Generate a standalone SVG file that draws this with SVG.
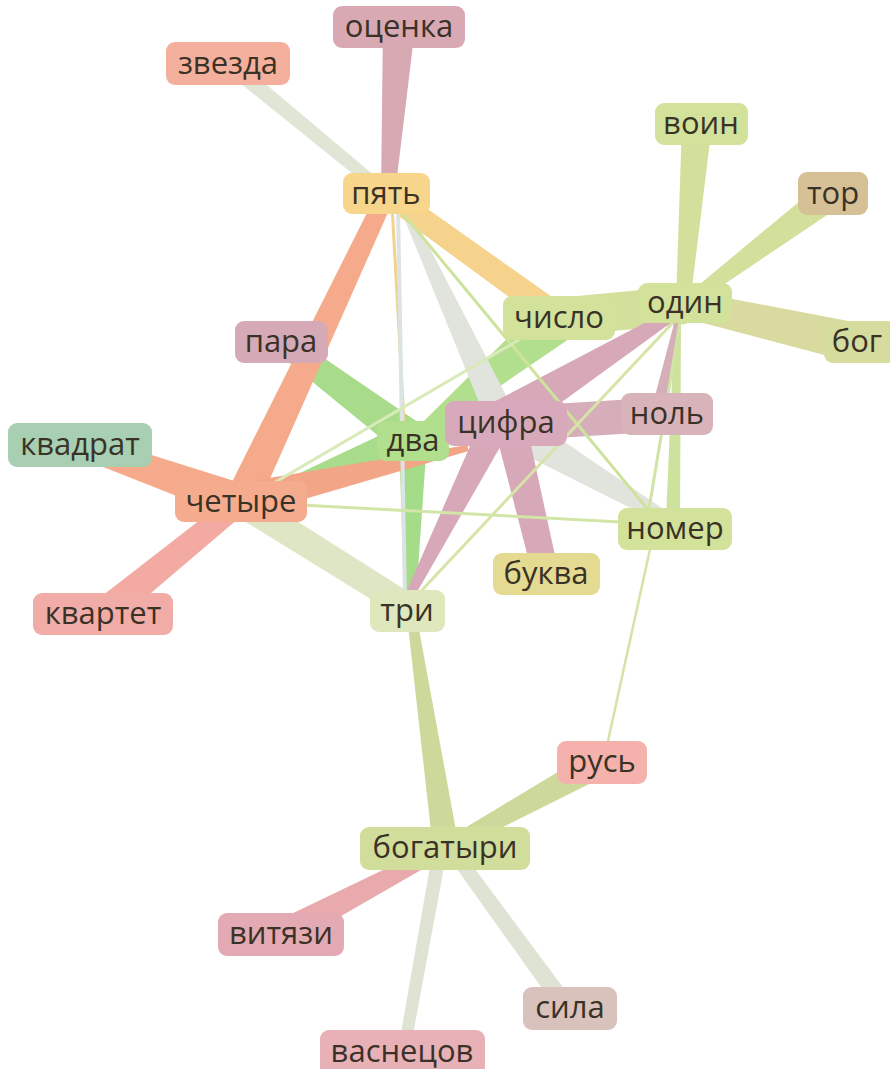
<svg xmlns="http://www.w3.org/2000/svg" width="890" height="1069" viewBox="0 0 890 1069">
<style>
text{font-family:"Open Sans","Noto Sans","DejaVu Sans",sans-serif;font-size:31px;fill:#3a3226;text-anchor:middle}
.g{fill:#d3e09b}.dg{fill:#a8dc8a}.sal{fill:#f5aa8b}.gr{fill:#e0e4dc}.mv{fill:#d6a8b8}.yl{fill:#f6d38c}
.ln{fill:none;stroke-linecap:butt}
</style>
<rect width="890" height="1069" fill="#ffffff"/>
<g id="connectors">
<polygon class="g" points="559.8,335.9 686.8,323.9 683.2,286.1 556.2,298.1"/>
<polygon class="g" points="690.0,303.5 712.0,125.2 682.0,122.8 676.0,302.5"/>
<polygon class="g" points="693.6,304.8 842.0,205.0 824.0,181.0 686.4,295.2"/>
<polygon fill="#d8daa0" points="686.9,318.7 852.6,362.5 861.4,323.5 693.1,291.4"/>
<polygon fill="#cde29c" points="675,309.9 666,519.8 680,520.2 681,310.1"/>
<polygon class="dg" points="274.4,350.8 401.2,454.4 422.8,425.6 287.6,333.2"/>
<polygon fill="#b2df8e" points="415.2,443.9 569.0,339.0 541.0,305.0 408.8,436.1"/>
<polygon fill="#a5dc89" points="399,439.7 404.5,604.9 415.5,605.1 427,440.3"/>
<polygon class="dg" points="399.7,426.0 258.9,492.2 261.1,497.8 410.3,454.0"/>
<polygon fill="#dfe6c6" points="242.6,519.9 398.1,616.0 411.9,594.0 257.4,496.1"/>
<polygon class="sal" points="377.9,191.2 225.6,494.7 256.4,509.3 394.1,198.8"/>
<polygon class="sal" points="76.0,456.3 235.0,519.0 247.0,485.0 84.0,433.7"/>
<polygon fill="#f2aaa3" points="234.1,493.5 93.6,602.4 112.5,625.7 247.9,510.5"/>
<polygon fill="#f3a588" points="244.7,516.6 468.6,450.9 467.4,445.1 237.3,483.4"/>
<polygon fill="#dfe6d6" points="222.9,69.2 382.2,197.6 389.8,188.4 233.1,56.8"/>
<polygon class="gr" points="399.4,206.7 490.4,430.3 517.6,417.7 406.6,203.3"/>
<polygon class="gr" points="505.9,445.5 656.5,521.0 663.5,509.0 524.1,414.5"/>
<polygon class="yl" points="379.6,201.9 550.4,327.5 565.6,306.5 392.4,184.1"/>
<polygon fill="#d7a9b3" points="383.0,25.9 381.0,192.5 395.0,193.5 415.0,28.1"/>
<polygon class="mv" points="516.5,435.0 682.6,314.2 677.4,305.8 495.5,401.0"/>
<polygon fill="#d4afb8" points="675.6,317.5 653.1,403.6 666.9,406.4 680.4,318.5"/>
<polygon fill="#d6aeb9" points="507.0,441.0 669.0,431.0 667.0,397.0 505.0,407.0"/>
<polygon class="mv" points="494.4,427.7 533.4,578.0 558.6,572.0 525.6,420.3"/>
<polygon class="mv" points="482.6,417.3 401.4,603.2 408.6,606.8 509.4,430.7"/>
<polygon fill="#cdd99b" points="406.5,611.7 433.1,849.9 458.9,846.1 415.5,610.3"/>
<polygon fill="#cdd99b" points="448.4,854.1 606.7,775.3 593.3,750.7 441.6,841.9"/>
<polygon fill="#e9aaad" points="441.7,841.8 273.5,922.6 286.5,947.4 448.3,854.2"/>
<polygon fill="#dee3d3" points="433.1,848.8 399.1,1043.9 410.9,1046.1 446.9,851.2"/>
<polygon fill="#dee3d3" points="446.3,854.1 557.7,1010.3 572.3,999.7 457.7,845.9"/>
<line class="ln" x1="392" y1="205" x2="405" y2="440" stroke="#f2d38e" stroke-width="3"/>
<line class="ln" x1="398" y1="208" x2="405" y2="600" stroke="#dbe3e4" stroke-width="4"/>
<line class="ln" x1="400" y1="210" x2="650" y2="512" stroke="#cde39c" stroke-width="3"/>
<line class="ln" x1="682" y1="310" x2="648" y2="515" stroke="#d2e3a6" stroke-width="3"/>
<line class="ln" x1="680" y1="315" x2="408" y2="605" stroke="#d6e4a8" stroke-width="3"/>
<line class="ln" x1="241" y1="502" x2="558" y2="317" stroke="#d8eab8" stroke-width="3"/>
<line class="ln" x1="300" y1="505" x2="640" y2="523" stroke="#d2e6a8" stroke-width="3"/>
<line class="ln" x1="652" y1="540" x2="606" y2="750" stroke="#d3e4a8" stroke-width="2.5"/>
</g>
<g id="node-оценка"><rect x="333" y="6" width="132" height="42" rx="9" fill="#d8a8b3"/><text x="399" y="37">оценка</text></g>
<g id="node-звезда"><rect x="166" y="42" width="124" height="43" rx="9" fill="#f5b09d"/><text x="228" y="74">звезда</text></g>
<g id="node-пять"><rect x="343" y="173" width="87" height="41" rx="9" fill="#f7d68b"/><text x="386" y="204">пять</text></g>
<g id="node-воин"><rect x="655" y="103" width="93" height="42" rx="9" fill="#d3e29b"/><text x="701" y="134">воин</text></g>
<g id="node-тор"><rect x="798" y="172" width="70" height="43" rx="9" fill="#d6c197"/><text x="833" y="204">тор</text></g>
<g id="node-один"><rect x="638" y="283" width="94" height="40" rx="9" fill="#d3e29b"/><text x="685" y="313">один</text></g>
<g id="node-число"><rect x="503" y="296" width="112" height="44" rx="9" fill="#d3e29b"/><text x="559" y="328">число</text></g>
<g id="node-бог"><rect x="824" y="321" width="72" height="42" rx="9" fill="#d6dc9d"/><text x="857" y="352">бог</text></g>
<g id="node-пара"><rect x="235" y="321" width="93" height="42" rx="9" fill="#d6a9b6"/><text x="281" y="352">пара</text></g>
<g id="node-два"><rect x="377" y="421" width="72" height="40" rx="9" fill="#b1df8e"/><text x="413" y="451">два</text></g>
<g id="node-цифра"><rect x="445" y="401" width="122" height="45" rx="9" fill="#d8a9bb"/><text x="506" y="433">цифра</text></g>
<g id="node-ноль"><rect x="621" y="393" width="92" height="42" rx="9" fill="#d8b4ba"/><text x="667" y="424">ноль</text></g>
<g id="node-квадрат"><rect x="8" y="423" width="144" height="44" rx="9" fill="#a8cfb2"/><text x="80" y="455">квадрат</text></g>
<g id="node-четыре"><rect x="175" y="481" width="132" height="41" rx="9" fill="#f5ac8e"/><text x="241" y="512">четыре</text></g>
<g id="node-номер"><rect x="618" y="508" width="114" height="42" rx="9" fill="#d3e29b"/><text x="675" y="539">номер</text></g>
<g id="node-буква"><rect x="493" y="553" width="107" height="42" rx="9" fill="#e4da92"/><text x="546" y="584">буква</text></g>
<g id="node-квартет"><rect x="33" y="593" width="140" height="42" rx="9" fill="#f2aca8"/><text x="103" y="624">квартет</text></g>
<g id="node-три"><rect x="370" y="590" width="75" height="42" rx="9" fill="#dfe8bd"/><text x="407" y="621">три</text></g>
<g id="node-русь"><rect x="557" y="741" width="90" height="43" rx="9" fill="#f5b1ab"/><text x="602" y="772">русь</text></g>
<g id="node-богатыри"><rect x="360" y="827" width="170" height="43" rx="9" fill="#d1dd9b"/><text x="445" y="858">богатыри</text></g>
<g id="node-витязи"><rect x="218" y="913" width="126" height="43" rx="9" fill="#e3aab4"/><text x="281" y="944">витязи</text></g>
<g id="node-сила"><rect x="523" y="987" width="94" height="43" rx="9" fill="#d9c2bc"/><text x="570" y="1018">сила</text></g>
<g id="node-васнецов"><rect x="320" y="1030" width="165" height="46" rx="9" fill="#e8b0b7"/><text x="402" y="1062">васнецов</text></g>
</svg>
